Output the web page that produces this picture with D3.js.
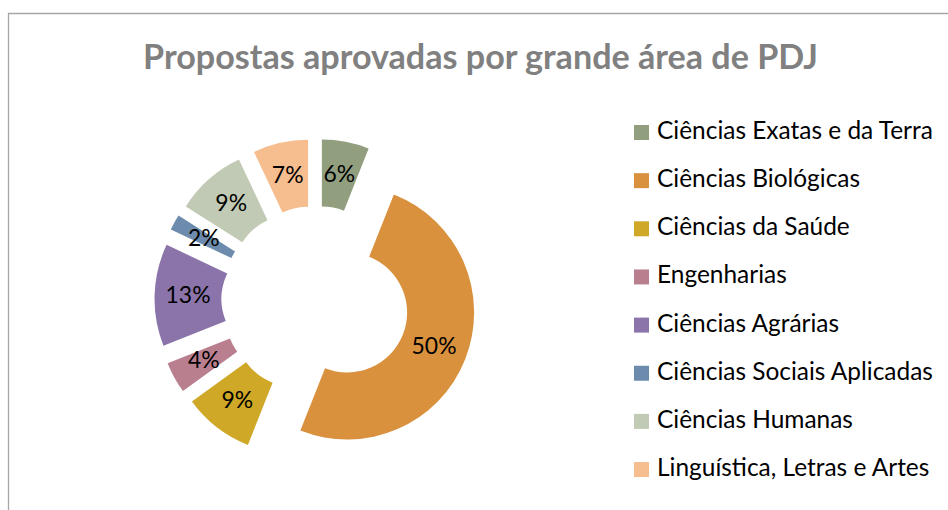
<!DOCTYPE html>
<html><head><meta charset="utf-8">
<script src="https://cdn.jsdelivr.net/npm/d3@7"></script>
<style>html,body{margin:0;padding:0;background:#fff;overflow:hidden}</style>
</head><body>
<svg id="c" width="948" height="510"></svg>
<script>
const categories = ["Ciências Exatas e da Terra","Ciências Biológicas","Ciências da Saúde","Engenharias","Ciências Agrárias","Ciências Sociais Aplicadas","Ciências Humanas","Linguística, Letras e Artes"];
const values = [6,50,9,4,13,2,9,7];
const colors = ["#929f7f","#d9913e","#cea826","#b97f8f","#8a74a9","#6d8cad","#c1cab4","#f6bd8f"];
const title = "Propostas aprovadas por grande área de PDJ";

const W = 948, H = 510;
const svg = d3.select("#c");
const FONT = "Lato, 'Open Sans', sans-serif";

// frame
svg.append("path").attr("d", `M8.5,${H} L8.5,13.5 L${W},13.5`).attr("fill","none").attr("stroke","#a6a6a6").attr("stroke-width",1.3);

function fit(sel, target) {
  const w = sel.node().getComputedTextLength();
  const fs = parseFloat(sel.attr("font-size"));
  return fs * target / w;
}

// title
const t = svg.append("text").attr("x", 480.5).attr("y", 69).attr("text-anchor","middle")
  .attr("font-family", FONT).attr("font-weight","bold").attr("font-size", 30).attr("fill","#808080").text(title);
t.attr("font-size", fit(t, 675));

// donut
const cx = 315.5, cy = 300, R = 127, r = 60, explode = 34;
const pie = d3.pie().sort(null).value(d => d);
const arcs = pie(values);
const arc = d3.arc().innerRadius(r).outerRadius(R);
const g = svg.append("g").attr("transform", `translate(${cx},${cy})`);
const slices = g.selectAll("g.s").data(arcs).join("g").attr("class","s")
  .attr("transform", d => { const m = (d.startAngle + d.endAngle)/2; return `translate(${explode*Math.sin(m)},${-explode*Math.cos(m)})`; });
slices.append("path").attr("d", arc).attr("fill", (d,i) => colors[i]);

const labels = slices.append("text").attr("text-anchor","middle").attr("dominant-baseline","central")
  .attr("font-family", FONT).attr("font-size", 22).attr("fill","#000")
  .attr("transform", d => { const c = arc.centroid(d); return `translate(${c[0]},${c[1]-2})`; })
  .text(d => d3.format(".0%")(d.data/100));
const lab50 = labels.filter(d => d.data === 50);
const lfs = fit(lab50, 45);
labels.attr("font-size", lfs);

// legend
const lg = svg.append("g");
const rows = lg.selectAll("g").data(categories).join("g").attr("transform", (d,i) => `translate(634,${125 + i*48.15})`);
rows.append("rect").attr("width",15).attr("height",15).attr("fill",(d,i) => colors[i]);
const lt = rows.append("text").attr("x", 23).attr("y", 14).attr("font-family", FONT).attr("font-size", 22).attr("fill","#000").text(d => d);
const legFs = fit(lt.filter((d,i) => i === 0), 276);
lt.attr("font-size", legFs);
</script>
</body></html>
